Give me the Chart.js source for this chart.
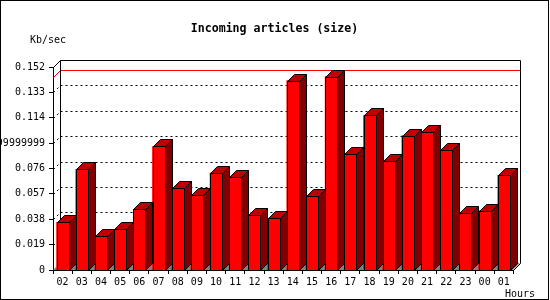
<!DOCTYPE html>
<html>
<head>
<meta charset="utf-8">
<script src="https://cdn.jsdelivr.net/npm/chart.js@4/dist/chart.umd.min.js"></script>
<style>
  html, body { margin: 0; padding: 0; background: #fff; }
  canvas { display: block; }
</style>
</head>
<body>
<canvas id="chart" width="550" height="300"></canvas>
<script>
const hours = ['02', '03', '04', '05', '06', '07', '08', '09', '10', '11', '12', '13',
               '14', '15', '16', '17', '18', '19', '20', '21', '22', '23', '00', '01'];
const kbPerSec = [0.0357, 0.0753, 0.0252, 0.0304, 0.0454, 0.0925, 0.0611, 0.0558, 0.0725, 0.0700, 0.0409, 0.0386,
                  0.1418, 0.0551, 0.1448, 0.0865, 0.1157, 0.0813, 0.1007, 0.1037, 0.0902, 0.0424, 0.0443, 0.0708];
const yTickValues = [0, 0.019, 0.038, 0.057, 0.076, 0.095, 0.114, 0.133, 0.152];
const yTickLabels = ['0', '0.019', '0.038', '0.057', '0.076', '0.09499999999', '0.114', '0.133', '0.152'];

const DEPTH = 7;
const MONO = '"DejaVu Sans Mono", "Liberation Mono", monospace';

Chart.defaults.font.family = MONO;
Chart.defaults.font.size = 10;
Chart.defaults.color = '#000';

// back walls, floor, dotted grid and the max line
const box3d = {
    id: 'box3d',
    beforeDatasetsDraw(chart) {
        const ctx = chart.ctx;
        const a = chart.chartArea;
        const y = chart.scales.y;
        const L = Math.round(a.left), R = Math.round(a.right), T = Math.round(a.top), B = Math.round(a.bottom);
        const D = DEPTH;
        ctx.save();
        ctx.lineWidth = 1;

        ctx.fillStyle = '#808080';
        ctx.beginPath();
        ctx.moveTo(L, B);
        ctx.lineTo(L + D, B - D);
        ctx.lineTo(R + D, B - D);
        ctx.lineTo(R, B);
        ctx.closePath();
        ctx.fill();

        ctx.strokeStyle = '#000';
        ctx.setLineDash([2, 3]);
        yTickValues.forEach((v, i) => {
            if (i === 0 || i === yTickValues.length - 1) return;
            const py = Math.round(y.getPixelForValue(v)) + 0.5;
            ctx.beginPath();
            ctx.moveTo(L + D + 0.5, py - D);
            ctx.lineTo(R + D, py - D);
            ctx.stroke();
            ctx.beginPath();
            ctx.moveTo(L + 0.5, py);
            ctx.lineTo(L + D + 0.5, py - D);
            ctx.stroke();
        });
        ctx.setLineDash([]);

        const maxY = Math.round(y.getPixelForValue(Math.max(...kbPerSec))) + 0.5;
        ctx.strokeStyle = '#ff0000';
        ctx.beginPath();
        ctx.moveTo(L + 0.5, maxY);
        ctx.lineTo(L + D + 0.5, maxY - D);
        ctx.lineTo(R + D, maxY - D);
        ctx.stroke();

        ctx.strokeStyle = '#000';
        ctx.beginPath();
        ctx.moveTo(L + 0.5, T + 0.5);
        ctx.lineTo(L + D + 0.5, T - D + 0.5);
        ctx.lineTo(R + D + 0.5, T - D + 0.5);
        ctx.lineTo(R + D + 0.5, B - D + 0.5);
        ctx.lineTo(R + 0.5, B + 0.5);
        ctx.stroke();
        ctx.beginPath();
        ctx.moveTo(L + D + 0.5, T - D + 0.5);
        ctx.lineTo(L + D + 0.5, B - D + 0.5);
        ctx.stroke();
        ctx.restore();
    },
    afterDatasetsDraw(chart) {
        const ctx = chart.ctx;
        const D = DEPTH;
        ctx.save();
        ctx.lineWidth = 1;
        ctx.strokeStyle = '#000';
        chart.getDatasetMeta(0).data.forEach(bar => {
            const xL = Math.round(bar.x - bar.width / 2) + 0.5;
            const xR = xL + Math.round(bar.width);
            const yT = Math.round(bar.y) + 0.5;
            const yB = Math.round(bar.base) + 0.5;

            ctx.fillStyle = '#ff0000';
            ctx.fillRect(xL, yT, xR - xL, yB - yT);
            ctx.strokeRect(xL, yT, xR - xL, yB - yT);

            ctx.fillStyle = '#800000';
            ctx.beginPath();
            ctx.moveTo(xR, yT);
            ctx.lineTo(xR + D, yT - D);
            ctx.lineTo(xR + D, yB - D);
            ctx.lineTo(xR, yB);
            ctx.closePath();
            ctx.fill();
            ctx.stroke();

            ctx.fillStyle = '#c00000';
            ctx.beginPath();
            ctx.moveTo(xL, yT);
            ctx.lineTo(xL + D, yT - D);
            ctx.lineTo(xR + D, yT - D);
            ctx.lineTo(xR, yT);
            ctx.closePath();
            ctx.fill();
            ctx.stroke();
        });
        ctx.restore();
    },
    afterDraw(chart) {
        const ctx = chart.ctx;
        ctx.save();
        ctx.fillStyle = '#000';
        ctx.textBaseline = 'alphabetic';
        ctx.font = 'bold 11.6px ' + MONO;
        ctx.textAlign = 'center';
        ctx.fillText('Incoming articles (size)', 274.5, 32);
        ctx.font = '10px ' + MONO;
        ctx.textAlign = 'left';
        ctx.fillText('Kb/sec', 30, 43);
        ctx.fillText('Hours', 505, 297);
        ctx.strokeStyle = '#000';
        ctx.lineWidth = 1;
        ctx.strokeRect(0.5, 0.5, 548, 299);
        ctx.restore();
    }
};

new Chart(document.getElementById('chart'), {
    type: 'bar',
    data: {
        labels: hours,
        datasets: [{
            data: kbPerSec,
            backgroundColor: '#ff0000',
            borderColor: '#000',
            borderWidth: 0,
            barThickness: 12
        }]
    },
    options: {
        responsive: false,
        devicePixelRatio: 1,
        animation: false,
        layout: { padding: { top: 67, right: 36.6, bottom: 0, left: 0 } },
        plugins: {
            legend: { display: false },
            title: { display: false },
            tooltip: { enabled: false }
        },
        scales: {
            x: {
                afterFit(scale) { scale.height = 30; },
                grid: { drawOnChartArea: false, tickLength: 4, color: '#000' },
                border: { color: '#000' },
                ticks: { padding: 2, maxRotation: 0, autoSkip: false }
            },
            y: {
                min: 0,
                max: 0.152,
                afterFit(scale) { scale.width = 53; },
                afterBuildTicks(scale) { scale.ticks = yTickValues.map(v => ({ value: v })); },
                grid: { drawOnChartArea: false, tickLength: 4, color: '#000' },
                border: { color: '#000' },
                ticks: {
                    padding: 4,
                    callback: (value, index) => yTickLabels[index]
                }
            }
        }
    },
    plugins: [box3d]
});
</script>
</body>
</html>
